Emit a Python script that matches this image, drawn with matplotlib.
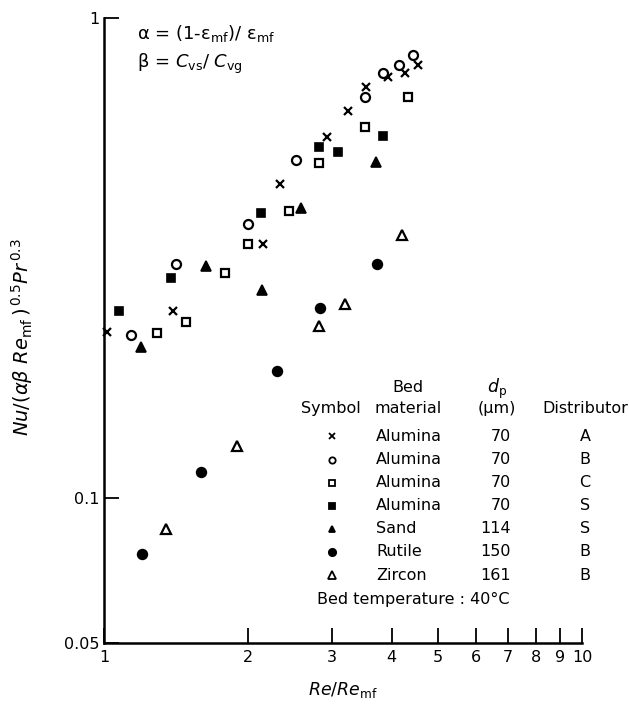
import matplotlib
matplotlib.use('Agg')
import matplotlib.pyplot as plt
from matplotlib.ticker import FixedLocator, NullLocator, FixedFormatter

plt.rcParams['font.family'] = ['DejaVu Sans']
plt.rcParams['mathtext.fontset'] = 'dejavusans'

# Re/Re_mf and Nu/(ab Re_mf)^0.5 Pr^0.3
alumina_a_x = [1.015, 1.394, 2.151, 2.334, 2.928, 3.239, 3.533, 3.928, 4.264, 4.539]
alumina_a_y = [0.222, 0.245, 0.339, 0.451, 0.564, 0.639, 0.720, 0.755, 0.769, 0.799]

alumina_b_x = [1.139, 1.414, 2.001, 2.522, 3.516, 3.834, 4.142, 4.431]
alumina_b_y = [0.219, 0.308, 0.373, 0.506, 0.686, 0.769, 0.799, 0.838]

alumina_c_x = [1.291, 1.484, 1.791, 2.001, 2.438, 2.818, 3.516, 4.325]
alumina_c_y = [0.221, 0.233, 0.294, 0.339, 0.397, 0.498, 0.592, 0.686]

alumina_s_x = [1.075, 1.381, 2.130, 2.818, 3.087, 3.834]
alumina_s_y = [0.246, 0.287, 0.393, 0.538, 0.526, 0.567]

sand_s_x = [1.195, 1.635, 2.140, 2.583, 3.707]
sand_s_y = [0.207, 0.304, 0.271, 0.402, 0.501]

rutile_b_x = [1.201, 1.596, 2.301, 2.830, 3.725]
rutile_b_y = [0.0766, 0.1137, 0.184, 0.249, 0.307]

zircon_b_x = [1.348, 1.898, 2.818, 3.192, 4.202]
zircon_b_y = [0.0863, 0.1287, 0.228, 0.2545, 0.354]

# legend table
materials = ['Alumina', 'Alumina', 'Alumina', 'Alumina', 'Sand', 'Rutile', 'Zircon']
diameters = ['70', '70', '70', '70', '114', '150', '161']
distributors = ['A', 'B', 'C', 'S', 'S', 'B', 'B']

x_ticks = [1, 2, 3, 4, 5, 6, 7, 8, 9, 10]
y_ticks = [0.05, 0.1, 1]
y_tick_labels = ['0.05', '0.1', '1']

W, H = 629, 706
fig = plt.figure(figsize=(W / 100, H / 100), dpi=100)
ax = fig.add_axes([104 / W, 1 - 643 / H, (582 - 104) / W, (643 - 18) / H])


def fx(px):
    return px / W


def fy(py):
    return 1 - py / H


# Marker styles for each series
styles = [
    dict(marker='x', mfc='black', ms=6, mew=1.6),
    dict(marker='o', mfc='white', ms=6.5, mew=1.6),
    dict(marker='s', mfc='white', ms=6.3, mew=1.6),
    dict(marker='s', mfc='black', ms=6.3, mew=1.2),
    dict(marker='^', mfc='black', ms=7, mew=1.2),
    dict(marker='o', mfc='black', ms=7, mew=1.2),
    dict(marker='^', mfc='white', ms=7.5, mew=1.6),
]
series = [
    (alumina_a_x, alumina_a_y), (alumina_b_x, alumina_b_y),
    (alumina_c_x, alumina_c_y), (alumina_s_x, alumina_s_y),
    (sand_s_x, sand_s_y), (rutile_b_x, rutile_b_y), (zircon_b_x, zircon_b_y),
]
for (xs, ys), st in zip(series, styles):
    ax.plot(xs, ys, ls='none', color='black', mec='black', clip_on=False, **st)

ax.set_xscale('log')
ax.set_yscale('log')
ax.set_xlim(1, 10)
ax.set_ylim(0.05, 1)

ax.xaxis.set_major_locator(FixedLocator(x_ticks))
ax.xaxis.set_major_formatter(FixedFormatter([str(t) for t in x_ticks]))
ax.xaxis.set_minor_locator(NullLocator())
ax.yaxis.set_major_locator(FixedLocator(y_ticks))
ax.yaxis.set_major_formatter(FixedFormatter(y_tick_labels))
ax.yaxis.set_minor_locator(NullLocator())

ax.tick_params(direction='in', length=11, width=1.3, labelsize=11.5, pad=5)
ax.tick_params(axis='y', pad=3)
for s in ['top', 'right']:
    ax.spines[s].set_visible(False)
for s in ['left', 'bottom']:
    ax.spines[s].set_linewidth(1.8)

ax.set_xlabel(r'$\mathit{Re}/\mathit{Re}_{\rm mf}$', fontsize=12.5, labelpad=11)
ax.set_ylabel(r'$\mathit{Nu}/(\alpha\beta\ \mathit{Re}_{\rm mf}\,)^{\,0.5}\mathit{Pr}^{\,0.3}$',
              fontsize=14, labelpad=16)
ax.yaxis.set_label_coords(-0.145, 0.49)

# definitions in the top left corner
fig.text(fx(137), fy(33), r'α = (1-$\mathrm{\epsilon}_{\rm mf}$)/ $\mathrm{\epsilon}_{\rm mf}$',
         fontsize=13, va='center', ha='left')
fig.text(fx(137), fy(64), r'β = $C_{\rm vs}$/ $C_{\rm vg}$',
         fontsize=13, va='center', ha='left')

# legend table
fs = 11.5
fig.text(fx(408), fy(387), 'Bed', fontsize=fs, ha='center', va='center')
fig.text(fx(331), fy(409), 'Symbol', fontsize=fs, ha='center', va='center')
fig.text(fx(408), fy(409), 'material', fontsize=fs, ha='center', va='center')
fig.text(fx(497), fy(389), r'$d_{\rm p}$', fontsize=fs + 1, ha='center', va='center')
fig.text(fx(497), fy(409), '(μm)', fontsize=fs, ha='center', va='center')
fig.text(fx(585), fy(409), 'Distributor', fontsize=fs, ha='center', va='center')

leg_sizes = [0.75, 0.7, 0.75, 0.75, 0.7, 0.75, 0.75]
for i, st in enumerate(styles):
    yy = fy(436.5 + 23.1 * i)
    st2 = dict(st)
    st2['ms'] = st['ms'] * leg_sizes[i]
    st2['mew'] = 1.3
    fig.add_artist(plt.Line2D([fx(332)], [yy], ls='none', color='black', mec='black',
                              transform=fig.transFigure, **st2))
    fig.text(fx(376), yy, materials[i], fontsize=fs, ha='left', va='center')
    fig.text(fx(511), yy, diameters[i], fontsize=fs, ha='right', va='center')
    fig.text(fx(585), yy, distributors[i], fontsize=fs, ha='center', va='center')

fig.text(fx(317), fy(599), 'Bed temperature : 40°C', fontsize=fs, ha='left', va='center')

plt.savefig('out.png', dpi=100)
